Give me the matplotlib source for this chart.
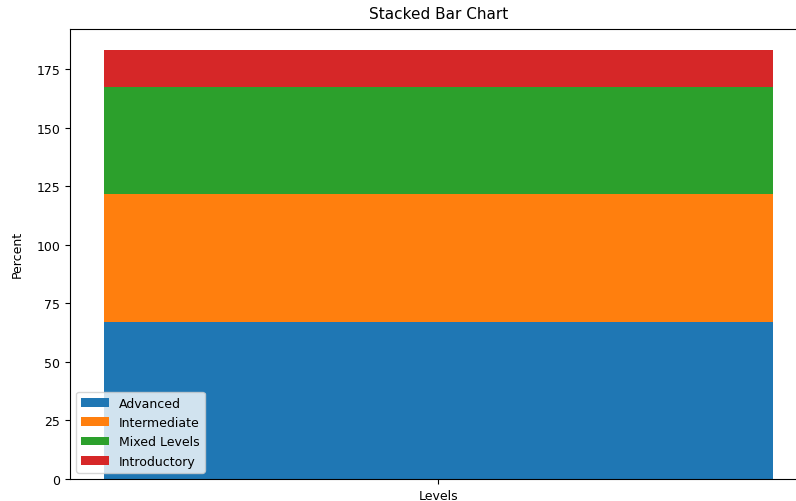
import numpy as np
from matplotlib import pyplot as plt

# stacked values for the single "Levels" bar
levels = ['Levels']
labels = ['Advanced', 'Intermediate', 'Mixed Levels', 'Introductory']
advanced = [67.2]
intermediate = [54.5]
mixed = [45.9]
introductory = [15.7]

series = [advanced, intermediate, mixed, introductory]

fig = plt.figure(figsize=(7.96, 5.02), dpi=100)
ax = fig.add_axes([0.088, 0.044, 0.925, 0.897])

bottom = np.zeros(len(levels))
for lab, vals in zip(labels, series):
    ax.bar(levels, vals, bottom=bottom, label=lab)
    bottom += np.array(vals)

ax.set_title('Stacked Bar Chart', fontsize=11, pad=8)
ax.set_ylabel('Percent', fontsize=9, labelpad=9)
ax.tick_params(labelsize=9)
ax.legend(loc='lower left', fontsize=9, handlelength=2.2)

plt.savefig('out.png', dpi=100)
